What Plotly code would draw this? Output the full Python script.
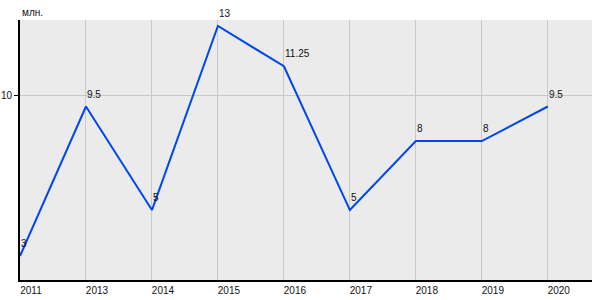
import plotly.graph_objects as go

years = ["2011", "2013", "2014", "2015", "2016", "2017", "2018", "2019", "2020"]
values = [3, 9.5, 5, 13, 11.25, 5, 8, 8, 9.5]
labels = ["3", "9.5", "5", "13", "11.25", "5", "8", "8", "9.5"]

fig = go.Figure()
fig.add_trace(go.Scatter(
    x=years, y=values, mode="lines",
    line=dict(color="#0047f0", width=2),
))

annotations = [dict(
    x=i, y=y, text=t, xref="x", yref="y",
    xanchor="left", yanchor="bottom", yshift=5, xshift=-1,
    showarrow=False,
    font=dict(family="Liberation Sans, Arial", size=10, color="#111111"),
) for i, (y, t) in enumerate(zip(values, labels))]

annotations.append(dict(
    text="млн.", xref="paper", yref="paper", x=0, y=1,
    xanchor="left", yanchor="bottom", yshift=0, showarrow=False,
    font=dict(size=10),
))

fig.update_layout(
    width=600, height=300,
    margin=dict(l=20, r=8, t=20, b=20),
    paper_bgcolor="white", plot_bgcolor="#ebebeb",
    showlegend=False,
    font=dict(family="Liberation Sans, Arial", size=10, color="#111111"),
    xaxis=dict(
        type="category", range=[0, 8.67], automargin=False,
        showgrid=True, gridcolor="#c8c8c8", gridwidth=1,
        showline=True, linecolor="black", linewidth=2,
        ticks="", ticklabelshift=11, ticklabelstandoff=0,
        tickfont=dict(size=10),
        zeroline=False,
    ),
    yaxis=dict(
        range=[1.96, 13.26], automargin=False,
        tickvals=[10], ticktext=["10"],
        showgrid=True, gridcolor="#c8c8c8", gridwidth=1,
        showline=True, linecolor="black", linewidth=2,
        ticks="outside", ticklen=4, tickcolor="black",
        tickfont=dict(size=10),
        zeroline=False,
    ),
    annotations=annotations,
)

fig.write_html("out.html")
